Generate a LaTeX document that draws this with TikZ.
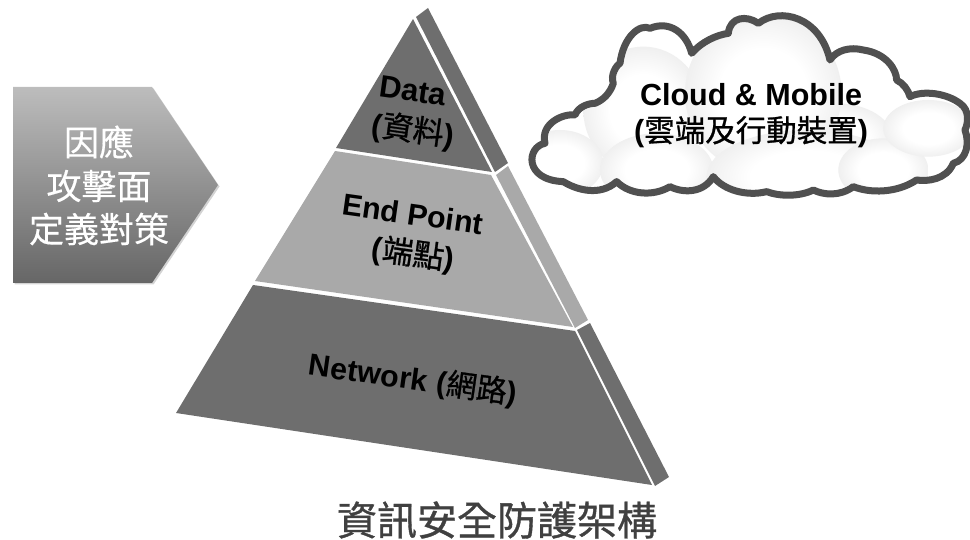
\documentclass[tikz,border=0pt]{standalone}
\usepackage{fontspec}
\setmainfont{Liberation Sans}
\newfontfamily\cjkfont[FakeBold=0.9]{Noto Sans CJK TC}
\newfontfamily\cjklight[FakeBold=0.4]{Noto Sans CJK TC}
\newcommand{\zh}[1]{\mbox{\mdseries\cjkfont #1}}
\usetikzlibrary{positioning,shadows}
\definecolor{darkface}{HTML}{6E6E6E}
\definecolor{lightface}{HTML}{A9A9A9}
\definecolor{cloudline}{HTML}{505050}
\definecolor{titlegray}{HTML}{404040}
\pgfdeclareradialshading{cloudblob}{\pgfpoint{0bp}{0bp}}{color(0bp)=(white); color(14bp)=(white); color(36bp)=(white!88!black); color(50bp)=(white!70!black)}
\tikzset{
  blob/.style={shading=cloudblob},
  facetext/.style={text=black, inner sep=0pt, rotate=-8},
  cloudtext/.style={inner sep=0pt, font=\bfseries\fontsize{30.5}{30.5}\selectfont},
  pentext/.style={font=\cjklight\fontsize{35}{35}\selectfont, text=white, inner sep=0pt}
}
\begin{document}
\begin{tikzpicture}[x=1pt,y=-1pt]
    \useasboundingbox (0,0) rectangle (970,540);
    % pyramid
    \fill [darkface] (413,19) -- (492,172) -- (336,148) -- cycle;
    \fill [lightface] (335,151) -- (491,175) -- (573,327) -- (255,281) -- cycle;
    \fill [darkface] (253,285) -- (575,331) -- (652,485) -- (176,413) -- cycle;
    \fill [darkface] (416,17) -- (428,8) -- (508,163) -- (495,172) -- cycle;
    \fill [lightface] (496,175) -- (508,166) -- (588,320) -- (575,328) -- cycle;
    \fill [darkface] (577,330) -- (590,323) -- (669,477) -- (655,486) -- cycle;
    \node [facetext, font=\bfseries\fontsize{31}{31}\selectfont] (DataEn) at (413,91) {Data};
    \node [facetext, on grid, below=40pt of DataEn, font=\bfseries\fontsize{31}{31}\selectfont] (DataZh) {(\zh{資料})};
    \node [facetext, font=\bfseries\fontsize{30.3}{30.3}\selectfont] (PointEn) at (413,214) {End Point};
    \node [facetext, on grid, below=41pt of PointEn, font=\bfseries\fontsize{31}{31}\selectfont] (PointZh) {(\zh{端點})};
    \node [facetext, font=\bfseries\fontsize{30.4}{30.4}\selectfont] (Network) at (413,380) {Network (\zh{網路})};
    % arrow
    \shade [top color=black!26, bottom color=black!60, drop shadow={shadow xshift=1.5pt,shadow yshift=-1.5pt,opacity=.35}]
      (13,87) -- (152,87) -- (218,185) -- (152,283) -- (13,283) -- cycle;
    \node [pentext] (Resp) at (99,142) {因應};
    \node [pentext, on grid, below=44pt of Resp] (Surface) {攻擊面};
    \node [pentext, on grid, below=43pt of Surface] (Measure) {定義對策};
    % cloud
    \begin{scope}[shift={(520,0)},x=0.3333pt,y=-0.3333pt]
      \def\cloudpath{(130,545) .. controls (10,540) and (20,440) .. (75,430)
        .. controls (60,370) and (130,340) .. (165,345)
        .. controls (175,320) and (205,310) .. (225,310)
        .. controls (250,300) and (270,280) .. (280,250)
        .. controls (270,225) and (290,195) .. (300,190)
        .. controls (310,110) and (360,70) .. (390,85)
        .. controls (450,60) and (500,100) .. (515,160)
        .. controls (545,125) and (590,105) .. (625,100)
        .. controls (630,50) and (680,45) .. (715,70)
        .. controls (780,20) and (900,50) .. (930,180)
        .. controls (950,150) and (990,140) .. (1030,150)
        .. controls (1100,160) and (1130,210) .. (1130,240)
        .. controls (1150,250) and (1165,270) .. (1170,290)
        .. controls (1210,270) and (1280,280) .. (1320,310)
        .. controls (1350,330) and (1345,370) .. (1335,390)
        .. controls (1350,430) and (1340,480) .. (1300,490)
        .. controls (1280,540) and (1220,545) .. (1190,540)
        .. controls (1130,580) and (1050,580) .. (1000,560)
        .. controls (960,590) and (910,585) .. (880,570)
        .. controls (840,590) and (780,590) .. (740,575)
        .. controls (680,590) and (610,570) .. (580,530)
        .. controls (550,580) and (490,580) .. (450,560)
        .. controls (400,590) and (330,585) .. (290,545)
        .. controls (240,590) and (170,570) .. (130,545) -- cycle}
      \begin{scope}
        \expandafter\clip\cloudpath;
        \fill [white] (0,0) rectangle (1350,630);
        \shade [blob] (370,330) ellipse [x radius=180, y radius=190];
        \shade [blob] (120,490) ellipse [x radius=130, y radius=100];
        \shade [blob] (950,420) ellipse [x radius=170, y radius=110];
        \shade [blob] (730,280) ellipse [x radius=235, y radius=240];
        \shade [blob] (410,510) ellipse [x radius=170, y radius=110];
        \shade [blob] (860,530) ellipse [x radius=300, y radius=140];
        \shade [blob] (1090,510) ellipse [x radius=135, y radius=95];
        \shade [blob] (1225,385) ellipse [x radius=135, y radius=85];
      \end{scope}
      \expandafter\draw\expandafter[\expandafter{line width=7pt, draw=cloudline, line join=round}]\cloudpath;
    \end{scope}
    \node [cloudtext] (CloudEn) at (751,95) {Cloud \& Mobile};
    \node [cloudtext, on grid, below=37pt of CloudEn] (CloudZh) {(\zh{雲端及行動裝置})};
    % title
    \node [inner sep=0pt, text=titlegray, font=\cjkfont\fontsize{40}{40}\selectfont] (Title) at (497,520) {資訊安全防護架構};
\end{tikzpicture}
\end{document}
